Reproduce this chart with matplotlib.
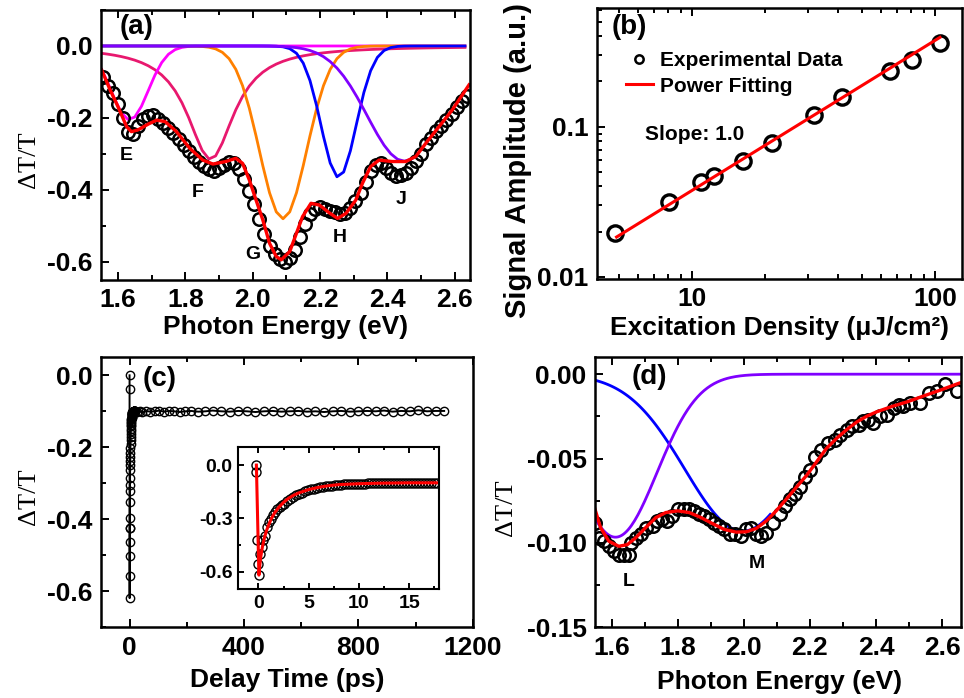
import numpy as np
import matplotlib
matplotlib.use("Agg")
import matplotlib.pyplot as plt
from matplotlib.ticker import MultipleLocator, FormatStrFormatter, LogLocator, NullFormatter
from matplotlib.lines import Line2D

plt.rcParams["font.family"] = "Liberation Sans"
plt.rcParams["font.weight"] = "bold"
plt.rcParams["axes.labelweight"] = "bold"
plt.rcParams["axes.unicode_minus"] = False

# ---- (a) transient spectrum with peak decomposition ----
energy_a = [1.555, 1.570, 1.585, 1.600, 1.615, 1.630, 1.645, 1.660, 1.675, 1.690,
            1.705, 1.720, 1.735, 1.750, 1.765, 1.780, 1.795, 1.810, 1.825, 1.840,
            1.855, 1.870, 1.885, 1.900, 1.915, 1.930, 1.945, 1.960, 1.975, 1.990,
            2.005, 2.020, 2.035, 2.050, 2.065, 2.080, 2.095, 2.110, 2.125, 2.140,
            2.155, 2.170, 2.185, 2.200, 2.215, 2.230, 2.245, 2.260, 2.275, 2.290,
            2.305, 2.320, 2.335, 2.350, 2.365, 2.380, 2.395, 2.410, 2.425, 2.440,
            2.455, 2.470, 2.485, 2.500, 2.515, 2.530, 2.545, 2.560, 2.575, 2.590,
            2.605, 2.620, 2.635]
dtt_a = [-0.085, -0.110, -0.130, -0.160, -0.200, -0.238, -0.244, -0.222, -0.203, -0.194,
         -0.193, -0.202, -0.213, -0.227, -0.242, -0.258, -0.275, -0.292, -0.308, -0.322,
         -0.333, -0.342, -0.346, -0.340, -0.330, -0.322, -0.326, -0.343, -0.370, -0.402,
         -0.440, -0.480, -0.522, -0.556, -0.578, -0.593, -0.600, -0.588, -0.566, -0.530,
         -0.495, -0.466, -0.452, -0.447, -0.452, -0.458, -0.462, -0.466, -0.465, -0.450,
         -0.432, -0.408, -0.378, -0.348, -0.330, -0.326, -0.338, -0.352, -0.360, -0.358,
         -0.352, -0.338, -0.320, -0.300, -0.272, -0.255, -0.236, -0.222, -0.205, -0.188,
         -0.170, -0.152, -0.140]

fit_a_e = [1.552, 1.577, 1.600, 1.626, 1.640, 1.660, 1.690, 1.715, 1.740, 1.774,
           1.813, 1.852, 1.882, 1.920, 1.950, 1.970, 1.990, 2.010, 2.030, 2.050,
           2.070, 2.085, 2.110, 2.130, 2.148, 2.173, 2.198, 2.228, 2.252, 2.277,
           2.306, 2.326, 2.350, 2.375, 2.414, 2.454, 2.484, 2.514, 2.553, 2.592, 2.642]
fit_a_v = [-0.067, -0.122, -0.168, -0.224, -0.238, -0.233, -0.217, -0.206, -0.210, -0.238,
           -0.284, -0.317, -0.328, -0.321, -0.312, -0.326, -0.372, -0.428, -0.483, -0.548,
           -0.585, -0.594, -0.571, -0.520, -0.474, -0.437, -0.442, -0.464, -0.479, -0.465,
           -0.428, -0.381, -0.335, -0.317, -0.321, -0.321, -0.307, -0.270, -0.224, -0.178, -0.108]

# fitted peaks: centre (eV), depth, width (eV), line shape, upper end drawn
peak_center_a = [1.875, 1.635, 2.090, 2.255, 2.450]
peak_depth_a = [0.315, 0.205, 0.480, 0.365, 0.320]
peak_width_a = [0.085, 0.055, 0.070, 0.052, 0.110]
peak_shape_a = ["lorentz", "gauss", "gauss", "gauss", "gauss"]
peak_end_a = [2.645, 2.645, 2.645, 2.645, 2.50]
peak_color_a = ["#e8186e", "#ff00ff", "#ff8000", "#0000ff", "#8000ff"]

peak_letters_a = ["E", "F", "G", "H", "J"]
letter_pos_a = [(1.626, -0.303), (1.837, -0.408), (2.0, -0.578), (2.259, -0.533), (2.44, -0.426)]

# ---- (b) amplitude vs excitation density ----
density_b = [4.84, 8.07, 10.9, 12.3, 16.3, 21.3, 31.9, 41.4, 65.3, 80.9, 105]
amp_b = [0.0195, 0.0313, 0.0426, 0.0471, 0.059, 0.0775, 0.1197, 0.158, 0.235, 0.279, 0.36]
fit_slope_b = 1.0
fit_prefactor_b = 0.00375
fit_range_b = [4.9, 105]

# ---- (c) decay kinetics ----
t_early = [-0.25, -0.2, -0.12, -0.05, 0.03, 0.2, 0.35, 0.5, 0.7, 0.9,
           1.1, 1.3, 1.5, 1.7, 1.9, 2.1, 2.3, 2.5, 2.8, 3.1,
           3.4, 3.7, 4.0, 4.3, 4.6, 4.9, 5.2, 5.5, 5.8, 6.1,
           6.4, 6.7, 7.0, 7.3, 7.6, 7.9, 8.2, 8.5, 8.8, 9.1,
           9.4, 9.7, 10.0, 10.3, 10.6, 10.9, 11.2, 11.5, 11.8, 12.1,
           12.4, 12.7, 13.0, 13.3, 13.6, 13.9, 14.2, 14.5, 14.8, 15.1,
           15.4, 15.7, 16.0, 16.3, 16.6, 16.9, 17.2, 17.5, 17.8]
dtt_early = [0.0, -0.037, -0.423, -0.558, -0.619, -0.503, -0.462, -0.423, -0.397, -0.351,
             -0.322, -0.305, -0.284, -0.263, -0.250, -0.238, -0.227, -0.217, -0.203, -0.190,
             -0.180, -0.170, -0.162, -0.155, -0.148, -0.142, -0.137, -0.133, -0.129, -0.125,
             -0.122, -0.119, -0.117, -0.115, -0.113, -0.111, -0.110, -0.109, -0.108, -0.107,
             -0.106, -0.105, -0.105, -0.104, -0.104, -0.103, -0.103, -0.102, -0.102, -0.102,
             -0.101, -0.101, -0.101, -0.101, -0.100, -0.100, -0.100, -0.100, -0.100, -0.100,
             -0.100, -0.100, -0.100, -0.100, -0.100, -0.100, -0.100, -0.100, -0.100]
t_late = [10, 18, 26, 35, 45, 58, 72, 88, 104, 120,
          138, 156, 175, 195, 215, 240, 265, 290, 320, 350,
          380, 410, 440, 470, 500, 530, 560, 590, 620, 650,
          680, 710, 740, 770, 800, 830, 860, 890, 920, 950,
          980, 1010, 1040, 1070, 1100]
dtt_late = [-0.101, -0.099, -0.102, -0.100, -0.103, -0.099, -0.101, -0.100, -0.098, -0.101,
            -0.099, -0.100, -0.102, -0.100, -0.099, -0.101, -0.100, -0.098, -0.100, -0.101,
            -0.099, -0.100, -0.102, -0.100, -0.099, -0.101, -0.100, -0.099, -0.101, -0.100,
            -0.102, -0.100, -0.099, -0.101, -0.100, -0.099, -0.100, -0.098, -0.101, -0.099,
            -0.100, -0.097, -0.100, -0.099, -0.099]
fit_c_t = [-0.2, 0.05, 0.2, 0.4, 0.6, 0.8, 1.0, 1.3, 1.6, 2.0,
           2.5, 3.0, 3.5, 4.0, 5.0, 6.0, 7.0, 8.0, 10.0, 12.0, 15.0, 18.0]
fit_c_v = [0.0, -0.62, -0.53, -0.46, -0.41, -0.37, -0.34, -0.30, -0.27, -0.24,
           -0.21, -0.187, -0.17, -0.157, -0.138, -0.125, -0.116, -0.110, -0.105, -0.102, -0.100, -0.100]

# ---- (d) spectrum at longer delay ----
energy_d = [1.551, 1.562, 1.577, 1.592, 1.607, 1.622, 1.637, 1.653, 1.658, 1.673,
            1.688, 1.703, 1.724, 1.739, 1.754, 1.769, 1.784, 1.800, 1.820, 1.835,
            1.850, 1.865, 1.881, 1.896, 1.911, 1.926, 1.941, 1.957, 1.972, 1.992,
            2.007, 2.022, 2.038, 2.053, 2.068, 2.088, 2.109, 2.124, 2.139, 2.154,
            2.169, 2.185, 2.200, 2.215, 2.235, 2.256, 2.276, 2.291, 2.311, 2.326,
            2.347, 2.362, 2.377, 2.392, 2.413, 2.433, 2.453, 2.468, 2.483, 2.504,
            2.534, 2.560, 2.585, 2.610, 2.645]
dtt_d = [-0.088, -0.097, -0.099, -0.102, -0.105, -0.107, -0.107, -0.107, -0.100, -0.097,
         -0.095, -0.091, -0.090, -0.087, -0.086, -0.087, -0.084, -0.080, -0.080, -0.080,
         -0.081, -0.083, -0.084, -0.086, -0.088, -0.090, -0.092, -0.095, -0.095, -0.096,
         -0.092, -0.091, -0.095, -0.096, -0.094, -0.088, -0.083, -0.078, -0.074, -0.071,
         -0.067, -0.061, -0.057, -0.049, -0.045, -0.041, -0.039, -0.036, -0.033, -0.031,
         -0.030, -0.028, -0.027, -0.029, -0.025, -0.024, -0.020, -0.018, -0.019, -0.017,
         -0.017, -0.011, -0.010, -0.006, -0.010]
fit_d_e = [1.550, 1.567, 1.592, 1.622, 1.648, 1.673, 1.703, 1.734, 1.764, 1.800,
           1.835, 1.871, 1.906, 1.941, 1.977, 2.007, 2.038, 2.068, 2.098, 2.129,
           2.159, 2.190, 2.220, 2.250, 2.281, 2.311, 2.342, 2.372, 2.402, 2.450,
           2.494, 2.550, 2.595, 2.656]
fit_d_v = [-0.080, -0.091, -0.099, -0.102, -0.101, -0.097, -0.091, -0.085, -0.082, -0.081,
           -0.082, -0.085, -0.0886, -0.092, -0.0936, -0.0934, -0.0914, -0.087, -0.081, -0.074,
           -0.067, -0.060, -0.052, -0.044, -0.038, -0.0329, -0.0283, -0.0249, -0.0223, -0.019,
           -0.0164, -0.0125, -0.0094, -0.005]
peak_center_d = [1.997, 1.612]
peak_depth_d = [0.093, 0.0966]
peak_width_d = [0.175, 0.125]
peak_end_d = [2.08, 2.656]
peak_color_d = ["#0000ff", "#8000ff"]


def peak(x, c, a, w, shape):
    if shape == "lorentz":
        return -a / (1 + ((x - c) / w) ** 2)
    return -a * np.exp(-(x - c) ** 2 / (2 * w ** 2))


def style(ax, size=19, major=6, minor=3.5, lw=1.8):
    for s in ax.spines.values():
        s.set_linewidth(lw)
    ax.tick_params(which="both", direction="in", top=True, right=False, width=1.4,
                   labelsize=size, pad=6)
    ax.tick_params(which="major", length=major)
    ax.tick_params(which="minor", length=minor)


serif = {"family": "Liberation Serif", "weight": "normal", "size": 19}
LABEL = 19

fig = plt.figure(figsize=(9.64, 6.98), dpi=100)

# (a)
ax = fig.add_axes([0.1048, 0.5989, 0.3828, 0.3868])
grid = np.arange(1.55, 2.6451, 0.02)
for c, a, w, sh, end, col in zip(peak_center_a, peak_depth_a, peak_width_a,
                                 peak_shape_a, peak_end_a, peak_color_a):
    x = grid[grid <= end + 1e-9]
    ax.plot(x, peak(x, c, a, w, sh), color=col, lw=2)
ax.plot(energy_a, dtt_a, "o", mfc="none", mec="black", ms=9, mew=1.8)
ax.plot(fit_a_e, fit_a_v, color="red", lw=2.4)
for lab, (x, y) in zip(peak_letters_a, letter_pos_a):
    ax.text(x, y, lab, fontsize=14, ha="center", va="center")
ax.text(0.051, 0.937, "(a)", transform=ax.transAxes, fontsize=20, va="center")
ax.set_xlim(1.55, 2.645)
ax.set_ylim(-0.65, 0.1)
ax.xaxis.set_major_locator(MultipleLocator(0.2))
ax.xaxis.set_minor_locator(MultipleLocator(0.1))
ax.yaxis.set_major_locator(MultipleLocator(0.2))
ax.yaxis.set_minor_locator(MultipleLocator(0.1))
ax.xaxis.set_major_formatter(FormatStrFormatter("%.1f"))
ax.yaxis.set_major_formatter(FormatStrFormatter("%.1f"))
style(ax)
ax.set_xlabel("Photon Energy (eV)", fontsize=LABEL)
ax.xaxis.set_label_coords(0.5, -0.13)
ax.set_ylabel("ΔT/T", fontdict=serif)
ax.yaxis.set_label_coords(-0.165, 0.445)

# (b)
ax = fig.add_axes([0.619, 0.6003, 0.3786, 0.3878])
ax.set_xscale("log")
ax.set_yscale("log")
xf = np.array(fit_range_b)
ax.plot(density_b, amp_b, "o", mfc="none", mec="black", ms=11, mew=2.4)
ax.plot(xf, fit_prefactor_b * xf ** fit_slope_b, color="red", lw=2.2)
ax.set_xlim(4.06, 129)
ax.set_ylim(0.00965, 0.615)
ax.set_xticks([10, 100], labels=["10", "100"])
ax.set_yticks([0.01, 0.1], labels=["0.01", "0.1"])
ax.xaxis.set_minor_locator(LogLocator(base=10, subs=np.arange(2, 10)))
ax.yaxis.set_minor_locator(LogLocator(base=10, subs=np.arange(2, 10)))
ax.xaxis.set_minor_formatter(NullFormatter())
ax.yaxis.set_minor_formatter(NullFormatter())
style(ax)
handles = [Line2D([], [], ls="none", marker="o", mfc="none", mec="black", ms=6, mew=1.8),
           Line2D([], [], color="red", lw=2.2)]
ax.legend(handles, ["Experimental Data", "Power Fitting"], loc="upper left",
          bbox_to_anchor=(0.04, 0.895), frameon=False, fontsize=15,
          handlelength=1.3, handletextpad=0.35, labelspacing=0.3, borderpad=0.2)
ax.text(0.132, 0.532, "Slope: 1.0", transform=ax.transAxes, fontsize=15, va="center")
ax.text(0.042, 0.931, "(b)", transform=ax.transAxes, fontsize=20, va="center")
ax.set_xlabel("Excitation Density (μJ/cm²)", fontsize=LABEL)
ax.xaxis.set_label_coords(0.502, -0.137)
ax.set_ylabel("Signal Amplitude (a.u.)", fontsize=21)
ax.yaxis.set_label_coords(-0.177, 0.436)

# (c)
ax = fig.add_axes([0.1048, 0.1013, 0.3856, 0.3868])
t_all = t_early + t_late
v_all = dtt_early + dtt_late
ax.plot(t_all, v_all, "-", color="black", lw=1.4, marker="o", mfc="none",
        mec="black", ms=6, mew=1)
ax.set_xlim(-100, 1200)
ax.set_ylim(-0.7, 0.05)
ax.xaxis.set_major_locator(MultipleLocator(400))
ax.xaxis.set_minor_locator(MultipleLocator(200))
ax.yaxis.set_major_locator(MultipleLocator(0.2))
ax.yaxis.set_minor_locator(MultipleLocator(0.1))
ax.yaxis.set_major_formatter(FormatStrFormatter("%.1f"))
style(ax)
ax.text(0.112, 0.918, "(c)", transform=ax.transAxes, fontsize=20, va="center")
ax.set_xlabel("Delay Time (ps)", fontsize=LABEL)
ax.xaxis.set_label_coords(0.5, -0.151)
ax.set_ylabel("ΔT/T", fontdict=serif)
ax.yaxis.set_label_coords(-0.164, 0.483)

# inset: first picoseconds
ins = fig.add_axes([0.2472, 0.1557, 0.2085, 0.2034])
ins.plot(t_early, dtt_early, "o", mfc="none", mec="black", ms=6.5, mew=1)
ins.plot(fit_c_t, fit_c_v, color="red", lw=2.2)
ins.set_xlim(-2, 18)
ins.set_ylim(-0.7, 0.1)
ins.xaxis.set_major_locator(MultipleLocator(5))
ins.xaxis.set_minor_locator(MultipleLocator(2.5))
ins.yaxis.set_major_locator(MultipleLocator(0.3))
ins.yaxis.set_minor_locator(MultipleLocator(0.15))
ins.yaxis.set_major_formatter(FormatStrFormatter("%.1f"))
style(ins, size=14, major=4, minor=2.5, lw=1.5)
ins.tick_params(pad=4)

# (d)
ax = fig.add_axes([0.6172, 0.1013, 0.3797, 0.3868])
for c, a, w, end, col in zip(peak_center_d, peak_depth_d, peak_width_d,
                             peak_end_d, peak_color_d):
    x = np.arange(1.55, end + 1e-9, 0.005)
    ax.plot(x, peak(x, c, a, w, "gauss"), color=col, lw=2)
ax.plot(energy_d, dtt_d, "o", mfc="none", mec="black", ms=9, mew=1.8)
ax.plot(fit_d_e, fit_d_v, color="red", lw=2.4)
ax.text(1.653, -0.1229, "L", fontsize=14, ha="center", va="center")
ax.text(2.038, -0.112, "M", fontsize=14, ha="center", va="center")
ax.text(0.1, 0.926, "(d)", transform=ax.transAxes, fontsize=20, va="center")
ax.set_xlim(1.55, 2.657)
ax.set_ylim(-0.15, 0.01)
ax.xaxis.set_major_locator(MultipleLocator(0.2))
ax.xaxis.set_minor_locator(MultipleLocator(0.1))
ax.yaxis.set_major_locator(MultipleLocator(0.05))
ax.yaxis.set_minor_locator(MultipleLocator(0.025))
ax.xaxis.set_major_formatter(FormatStrFormatter("%.1f"))
ax.yaxis.set_major_formatter(FormatStrFormatter("%.2f"))
style(ax)
ax.set_xlabel("Photon Energy (eV)", fontsize=LABEL)
ax.xaxis.set_label_coords(0.505, -0.158)
ax.set_ylabel("ΔT/T", fontdict=serif)
ax.yaxis.set_label_coords(-0.213, 0.442)

fig.savefig("out.png", dpi=100)
